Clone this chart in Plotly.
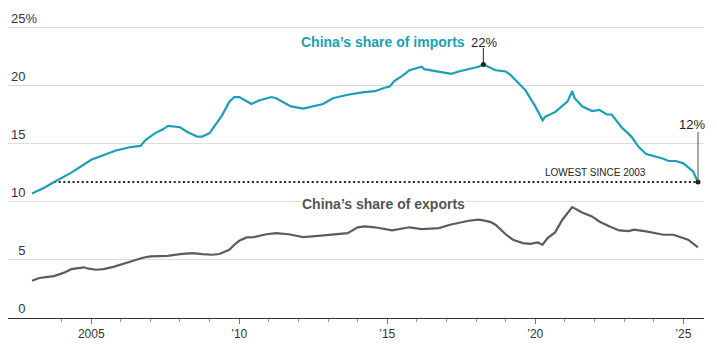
import plotly.graph_objects as go

# ---- data ----
imp_dates = ["2003-01", "2003-06", "2003-10", "2004-05", "2005-01", "2005-11", "2006-03", "2006-05",
             "2006-09", "2006-11", "2007-03", "2007-06", "2007-08", "2007-09", "2008-01", "2008-04",
             "2008-07", "2008-08", "2008-10", "2009-01", "2009-03", "2009-06", "2009-09", "2009-11",
             "2010-01", "2010-06", "2010-09", "2011-02", "2011-04", "2011-10", "2012-03", "2012-11",
             "2013-03", "2013-05", "2013-09", "2014-03", "2014-08", "2014-12", "2015-02", "2015-04",
             "2015-07", "2015-10", "2016-03", "2016-04", "2016-10", "2017-03", "2017-06", "2017-12",
             "2018-02", "2018-04", "2018-09", "2019-01", "2019-03", "2019-09", "2020-01", "2020-04",
             "2020-05", "2020-09", "2021-02", "2021-04", "2021-05", "2021-08", "2021-12", "2022-03",
             "2022-06", "2022-08", "2022-12", "2023-04", "2023-07", "2023-10", "2024-02", "2024-05",
             "2024-07", "2024-10", "2025-01", "2025-05", "2025-07"]
imp_vals = [10.7, 11.2, 11.7, 12.5, 13.6, 14.4, 14.6, 14.7,
            14.8, 15.3, 15.9, 16.2, 16.5, 16.5, 16.4, 16.0,
            15.7, 15.6, 15.6, 15.9, 16.5, 17.4, 18.6, 19.0,
            19.0, 18.4, 18.7, 19.0, 18.9, 18.2, 18.0, 18.4,
            18.9, 19.0, 19.2, 19.4, 19.5, 19.8, 19.9, 20.4,
            20.8, 21.3, 21.6, 21.4, 21.2, 21.0, 21.2, 21.5,
            21.6, 21.8, 21.3, 21.2, 20.9, 19.6, 18.2, 17.0,
            17.3, 17.7, 18.6, 19.5, 18.9, 18.2, 17.8, 17.9,
            17.5, 17.5, 16.4, 15.6, 14.7, 14.1, 13.9, 13.7,
            13.5, 13.5, 13.3, 12.6, 11.7]

exp_dates = ["2003-01", "2003-04", "2003-06", "2003-10", "2004-02", "2004-05", "2004-10", "2004-12",
             "2005-03", "2005-06", "2005-10", "2006-02", "2006-06", "2006-10", "2007-01", "2007-06",
             "2007-08", "2008-01", "2008-06", "2008-10", "2009-02", "2009-05", "2009-09", "2009-11",
             "2010-01", "2010-04", "2010-07", "2010-12", "2011-04", "2011-09", "2012-03", "2012-09",
             "2013-03", "2013-09", "2014-01", "2014-04", "2014-08", "2015-03", "2015-10", "2016-03",
             "2016-10", "2017-02", "2017-10", "2018-02", "2018-04", "2018-07", "2018-09", "2019-01",
             "2019-04", "2019-08", "2019-11", "2020-02", "2020-04", "2020-06", "2020-09", "2020-12",
             "2021-04", "2021-06", "2021-08", "2021-12", "2022-03", "2022-07", "2022-11", "2023-03",
             "2023-05", "2023-10", "2024-02", "2024-05", "2024-09", "2024-11", "2025-03", "2025-07"]
exp_vals = [3.2, 3.44, 3.5, 3.6, 3.9, 4.2, 4.36, 4.24,
            4.15, 4.2, 4.4, 4.67, 4.96, 5.18, 5.3, 5.35,
            5.35, 5.5, 5.58, 5.5, 5.44, 5.5, 5.87, 6.3,
            6.64, 6.93, 6.96, 7.2, 7.3, 7.2, 6.96, 7.07,
            7.2, 7.3, 7.8, 7.87, 7.8, 7.53, 7.8, 7.65,
            7.73, 8.0, 8.36, 8.45, 8.39, 8.25, 8.0, 7.2,
            6.73, 6.44, 6.38, 6.5, 6.3, 6.87, 7.36, 8.45,
            9.54, 9.3, 9.08, 8.74, 8.3, 7.88, 7.53, 7.47,
            7.59, 7.45, 7.3, 7.16, 7.16, 7.02, 6.73, 6.07]

y_tickvals = [0, 5, 10, 15, 20, 25]
y_ticktext = ["\u20070", "\u20075", "10", "15", "20", "25%"]
x_tickvals = ["2005-01-01", "2010-01-01", "2015-01-01", "2020-01-01", "2025-01-01"]
x_ticktext = ["2005", "\u201910", "\u201915", "\u201920", "\u201925"]

low_start = "2003-10"
peak_i = imp_vals.index(max(imp_vals))
peak_date, peak_val = imp_dates[peak_i], imp_vals[peak_i]
end_date, end_val = imp_dates[-1], imp_vals[-1]

TEAL = "#1c9fb5"
GRAY = "#5c5c5c"
DARK = "#222222"
FONT = "Liberation Sans, Arial, sans-serif"

fig = go.Figure()
fig.add_trace(go.Scatter(x=[low_start, end_date], y=[end_val, end_val], mode="lines",
                         line=dict(color=DARK, width=2, dash="2px,2.6px"), hoverinfo="skip"))
fig.add_trace(go.Scatter(x=exp_dates, y=exp_vals, mode="lines",
                         line=dict(color=GRAY, width=2.2), hoverinfo="skip"))
fig.add_trace(go.Scatter(x=imp_dates, y=imp_vals, mode="lines",
                         line=dict(color=TEAL, width=2.2), hoverinfo="skip"))

# leader lines
fig.add_shape(type="line", xref="x", yref="y", x0=peak_date, x1=peak_date, y0=peak_val, y1=23.2,
              line=dict(color=DARK, width=1))
fig.add_shape(type="line", xref="x", yref="y", x0=end_date, x1=end_date, y0=end_val, y1=16.0,
              line=dict(color="#555555", width=1))
fig.add_trace(go.Scatter(x=[peak_date, end_date], y=[peak_val, end_val], mode="markers",
                         marker=dict(color=DARK, size=5), hoverinfo="skip"))

fig.add_annotation(x="2014-11-10", y=23.7, text="<b>China\u2019s share of imports</b>", showarrow=False,
                   font=dict(family=FONT, size=14, color=TEAL), xanchor="center", yanchor="middle")
fig.add_annotation(x=peak_date, y=23.7, text="22%", showarrow=False, xshift=1,
                   font=dict(family=FONT, size=13, color=DARK), xanchor="center", yanchor="middle")
fig.add_annotation(x=end_date, y=16.6, text="12%", showarrow=False, xshift=-6,
                   font=dict(family=FONT, size=13, color=DARK), xanchor="center", yanchor="middle")
fig.add_annotation(x="2023-10-20", y=12.55, text="LOWEST SINCE 2003", showarrow=False,
                   font=dict(family=FONT, size=10, color=DARK), xanchor="right", yanchor="middle")
fig.add_annotation(x="2014-11-10", y=9.8, text="<b>China\u2019s share of exports</b>", showarrow=False,
                   font=dict(family=FONT, size=14, color="#555555"), xanchor="center", yanchor="middle",
                   bgcolor="white", borderpad=1)

fig.update_layout(
    width=717, height=346,
    margin=dict(l=8, r=13, t=4, b=28),
    paper_bgcolor="white", plot_bgcolor="white",
    showlegend=False,
    font=dict(family=FONT, size=12, color="#333333"),
    xaxis=dict(
        range=["2002-03-11", "2025-09-13"],
        tickmode="array", tickvals=x_tickvals, ticktext=x_ticktext,
        ticks="outside", ticklen=5, tickcolor="#777777", tickwidth=1,
        minor=dict(ticks="outside", ticklen=3, tickcolor="#999999", dtick="M12", tick0="2003-01-01"),
        showgrid=False, showline=True, linecolor="#333333", linewidth=1,
        tickfont=dict(family=FONT, size=12, color="#333333"),
        zeroline=False,
    ),
    yaxis=dict(
        range=[0, 27],
        tickmode="array", tickvals=y_tickvals, ticktext=y_ticktext,
        ticklabelposition="inside top",
        showgrid=True, gridcolor="#dddddd", gridwidth=1,
        zeroline=False, showline=False, ticks="",
        tickfont=dict(family=FONT, size=13, color="#333333"),
    ),
)

fig.write_html("out.html")
